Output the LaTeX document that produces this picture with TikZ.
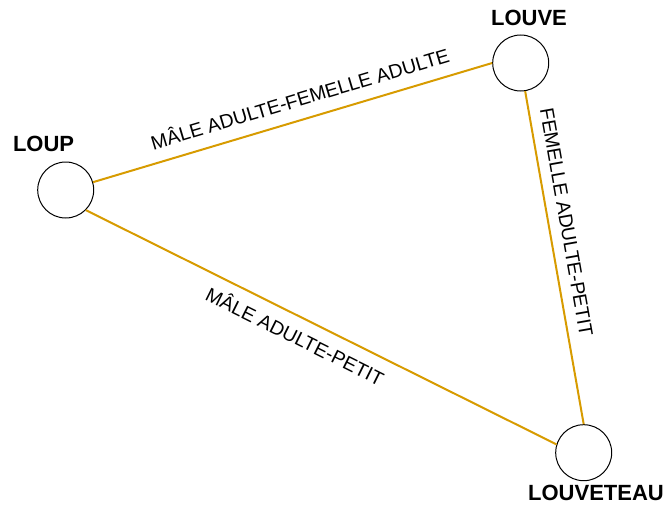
\documentclass[tikz,border=0pt]{standalone}
\usepackage{fontspec}
\setmainfont{Liberation Sans}
\definecolor{edgeorange}{HTML}{D79B00}
\begin{document}
\begin{tikzpicture}[x=1pt,y=-1pt,
  animal/.style={circle,draw=black,line width=1pt,minimum size=56pt,inner sep=0pt},
  animalname/.style={font=\fontsize{22}{26}\selectfont\bfseries,inner sep=0pt,text height=15.75pt,text depth=0pt},
  link/.style={draw=edgeorange,line width=2pt},
  rel/.style={font=\fontsize{19.5}{22}\selectfont,inner sep=0pt,text height=14pt,text depth=0pt,sloped}]
\useasboundingbox (0,0) rectangle (665,506);
\node[animal] (loup) at (65.7,190) {};
\node[animal] (louve) at (520.7,63) {};
\node[animal] (louveteau) at (583.7,452.7) {};
\node[animalname] (tloup) at (43.6,144) {LOUP};
\node[animalname] (tlouve) at (529,18) {LOUVE};
\node[animalname] (tlouveteau) at (596,493) {LOUVETEAU};
\path[link] (loup.16) -- node[rel,pos=0.533,above=12.3pt] {MÂLE ADULTE-FEMELLE ADULTE} (louve.180);
\path[link] (loup.-45) -- node[rel,pos=0.463,below=12.1pt] {MÂLE ADULTE-PETIT} (louveteau.163.5);
\path[link] (louve.-81) -- node[rel,pos=0.403,above=10.3pt] {FEMELLE ADULTE-PETIT} (louveteau.90);
\end{tikzpicture}
\end{document}
